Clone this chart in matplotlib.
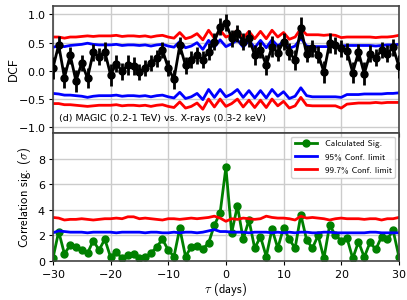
import numpy as np
import matplotlib.pyplot as plt

plt.rcParams['mathtext.fontset'] = 'cm'
plt.rcParams['axes.formatter.use_mathtext'] = True
plt.rcParams['axes.unicode_minus'] = True

# Time lags (days)
lags = np.arange(-30, 31)

# Top panel: discrete correlation function with errors
dcf = [0.05, 0.46, -0.12, 0.28, -0.18, 0.14, -0.13, 0.33, 0.25, 0.34,
       -0.07, 0.13, -0.01, 0.11, 0.08, -0.02, 0.05, 0.14, 0.22, 0.37,
       0.05, -0.15, 0.45, 0.10, 0.20, 0.28, 0.20, 0.34, 0.52, 0.78,
       0.85, 0.58, 0.67, 0.52, 0.58, 0.28, 0.37, 0.10, 0.43, 0.32,
       0.52, 0.34, 0.19, 0.76, 0.30, 0.40, 0.29, -0.02, 0.50, 0.45,
       0.40, 0.35, -0.03, 0.33, -0.05, 0.30, 0.23, 0.37, 0.30, 0.42,
       0.08]
dcf_err = [0.20, 0.15, 0.18, 0.15, 0.20, 0.15, 0.18, 0.15, 0.15, 0.17,
           0.20, 0.15, 0.15, 0.18, 0.16, 0.15, 0.15, 0.15, 0.15, 0.15,
           0.15, 0.17, 0.15, 0.15, 0.15, 0.15, 0.15, 0.15, 0.15, 0.15,
           0.15, 0.15, 0.15, 0.15, 0.15, 0.18, 0.15, 0.18, 0.18, 0.15,
           0.15, 0.15, 0.18, 0.20, 0.15, 0.15, 0.15, 0.20, 0.18, 0.15,
           0.15, 0.15, 0.18, 0.15, 0.20, 0.15, 0.15, 0.15, 0.15, 0.15,
           0.20]

# Confidence bands on the DCF
red_up = [0.60, 0.60, 0.58, 0.60, 0.60, 0.61, 0.62, 0.61, 0.62, 0.62,
          0.62, 0.63, 0.61, 0.62, 0.62, 0.61, 0.62, 0.60, 0.62, 0.63,
          0.60, 0.58, 0.68, 0.57, 0.60, 0.66, 0.55, 0.72, 0.58, 0.72,
          0.60, 0.64, 0.72, 0.58, 0.70, 0.57, 0.70, 0.57, 0.72, 0.60,
          0.68, 0.56, 0.60, 0.75, 0.64, 0.64, 0.64, 0.63, 0.64, 0.63,
          0.59, 0.60, 0.60, 0.60, 0.60, 0.60, 0.59, 0.60, 0.60, 0.61,
          0.63]
blue_up = [0.42, 0.44, 0.43, 0.45, 0.46, 0.47, 0.49, 0.47, 0.46, 0.46,
           0.46, 0.47, 0.45, 0.46, 0.46, 0.45, 0.46, 0.44, 0.46, 0.47,
           0.44, 0.42, 0.52, 0.41, 0.44, 0.50, 0.38, 0.54, 0.42, 0.55,
           0.43, 0.48, 0.55, 0.42, 0.54, 0.41, 0.54, 0.41, 0.55, 0.44,
           0.52, 0.40, 0.44, 0.58, 0.44, 0.43, 0.43, 0.43, 0.43, 0.43,
           0.44, 0.45, 0.45, 0.45, 0.45, 0.45, 0.44, 0.45, 0.46, 0.46,
           0.47]
blue_lo = [-0.40, -0.41, -0.43, -0.43, -0.44, -0.45, -0.47, -0.45, -0.44, -0.44,
           -0.44, -0.43, -0.45, -0.44, -0.44, -0.45, -0.44, -0.46, -0.44, -0.43,
           -0.46, -0.48, -0.38, -0.49, -0.46, -0.40, -0.51, -0.33, -0.47, -0.33,
           -0.46, -0.41, -0.33, -0.47, -0.35, -0.48, -0.35, -0.48, -0.33, -0.45,
           -0.37, -0.49, -0.45, -0.30, -0.44, -0.46, -0.46, -0.46, -0.46, -0.46,
           -0.47, -0.42, -0.42, -0.42, -0.41, -0.41, -0.41, -0.41, -0.40, -0.40,
           -0.39]
red_lo = [-0.58, -0.58, -0.60, -0.60, -0.61, -0.62, -0.63, -0.62, -0.61, -0.61,
          -0.61, -0.60, -0.62, -0.61, -0.61, -0.62, -0.61, -0.63, -0.61, -0.60,
          -0.63, -0.65, -0.55, -0.66, -0.63, -0.57, -0.68, -0.50, -0.64, -0.50,
          -0.63, -0.58, -0.50, -0.64, -0.52, -0.65, -0.52, -0.65, -0.50, -0.62,
          -0.54, -0.66, -0.62, -0.47, -0.61, -0.62, -0.62, -0.62, -0.62, -0.62,
          -0.66, -0.59, -0.58, -0.57, -0.57, -0.57, -0.56, -0.57, -0.56, -0.56,
          -0.56]

# Bottom panel: significance (sigma)
sig = [0.2, 2.3, 0.55, 1.25, 1.1, 0.85, 0.6, 1.6, 0.85, 1.7,
       0.3, 0.7, 0.2, 0.5, 0.55, 0.2, 0.3, 0.6, 1.1, 1.7,
       0.85, 0.35, 2.55, 0.35, 1.1, 1.15, 0.95, 1.4, 2.8, 3.75,
       7.3, 2.2, 4.3, 1.7, 3.2, 1.0, 1.9, 0.35, 2.5, 1.0,
       2.6, 1.7, 1.0, 3.6, 1.65, 1.0, 2.0, 0.2, 2.8, 2.0,
       1.6, 1.8, 0.2, 1.5, 0.3, 1.45, 0.9, 1.9, 1.7, 2.4,
       0.35]
sig95 = [2.20, 2.35, 2.30, 2.25, 2.25, 2.25, 2.20, 2.25, 2.25, 2.25,
         2.25, 2.20, 2.25, 2.25, 2.25, 2.25, 2.20, 2.25, 2.25, 2.20,
         2.20, 2.25, 2.20, 2.25, 2.25, 2.20, 2.25, 2.35, 2.45, 2.30,
         2.30, 2.25, 2.25, 2.25, 2.20, 2.25, 2.25, 2.25, 2.20, 2.25,
         2.20, 2.25, 2.20, 2.25, 2.25, 2.20, 2.20, 2.25, 2.25, 2.20,
         2.20, 2.20, 2.20, 2.20, 2.20, 2.25, 2.25, 2.20, 2.20, 2.20,
         2.20]
sig997 = [3.40, 3.35, 3.20, 3.25, 3.25, 3.30, 3.25, 3.20, 3.25, 3.30,
          3.30, 3.35, 3.30, 3.45, 3.45, 3.30, 3.35, 3.30, 3.25, 3.20,
          3.30, 3.30, 3.25, 3.30, 3.35, 3.30, 3.35, 3.40, 3.50, 3.35,
          3.10, 3.30, 3.25, 3.35, 3.30, 3.25, 3.30, 3.50, 3.40, 3.35,
          3.35, 3.30, 3.20, 3.50, 3.35, 3.40, 3.35, 3.30, 3.20, 3.30,
          3.35, 3.30, 3.30, 3.30, 3.25, 3.30, 3.30, 3.20, 3.30, 3.30,
          3.40]

label_font = ['cmss10', 'DejaVu Sans']

fig = plt.figure(figsize=(4.07, 3.0), dpi=100)
ax1 = fig.add_axes([0.130, 0.557, 0.850, 0.423])
ax2 = fig.add_axes([0.130, 0.130, 0.850, 0.427], sharex=ax1)

for ax in (ax1, ax2):
    ax.grid(True, color='#cccccc', lw=1.0)
    ax.set_axisbelow(True)
    for s in ax.spines.values():
        s.set_color('#444444')
        s.set_linewidth(1.2)
    ax.tick_params(labelsize=8, length=3, width=0.8, pad=2)

# top panel
ax1.plot(lags, red_up, color='red', lw=2)
ax1.plot(lags, red_lo, color='red', lw=2)
ax1.plot(lags, blue_up, color='blue', lw=2)
ax1.plot(lags, blue_lo, color='blue', lw=2)
ax1.errorbar(lags, dcf, yerr=dcf_err, fmt='o-', color='black', ms=5,
             lw=2, elinewidth=2, capsize=0, zorder=3)
ax1.set_ylim(-1.1, 1.15)
ax1.set_yticks([-1.0, -0.5, 0.0, 0.5, 1.0])
ax1.set_ylabel('DCF', family=label_font, fontsize=9)
ax1.yaxis.set_label_coords(-0.095, 0.5)
ax1.tick_params(labelbottom=False)
ax1.text(0.017, 0.11, '(d) MAGIC (0.2-1 TeV) vs. X-rays (0.3-2 keV)',
         transform=ax1.transAxes, family='DejaVu Sans', fontsize=6.8,
         va='center', ha='left')

# bottom panel
ax2.plot(lags, sig, 'o-', color='green', ms=5, lw=2, label='Calculated Sig.')
ax2.plot(lags, sig95, color='blue', lw=2, label='95% Conf. limit')
ax2.plot(lags, sig997, color='red', lw=2, label='99.7% Conf. limit')
ax2.set_xlim(-30, 30)
ax2.set_xticks([-30, -20, -10, 0, 10, 20, 30])
ax2.set_ylim(0, 10)
ax2.set_yticks([0, 2, 4, 6, 8])
ax2.set_ylabel(r'Correlation sig. ($\sigma$)', family=label_font, fontsize=9)
ax2.yaxis.set_label_coords(-0.058, 0.5)
ax2.set_xlabel(r'$\tau$ (days)', family=label_font, fontsize=9, labelpad=1)
leg = ax2.legend(loc='upper right', prop={'family': label_font, 'size': 6.5},
                 framealpha=0.9, edgecolor='#cccccc', borderaxespad=0.4,
                 handlelength=2.5)

fig.savefig('out.png', dpi=100)
